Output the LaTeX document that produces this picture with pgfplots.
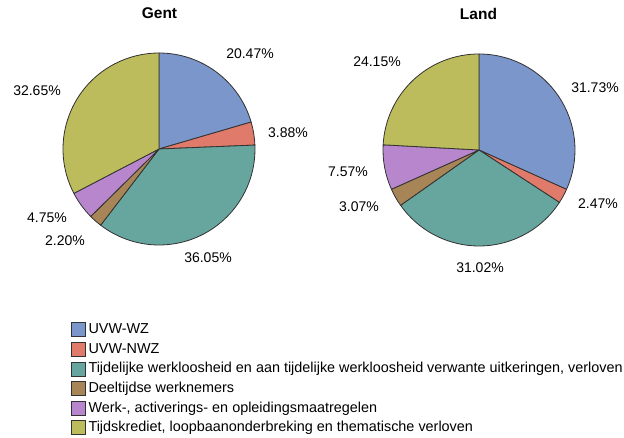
\documentclass[border=0pt]{standalone}
\usepackage{pgfplots}
\usepackage{pgfplotstable}
\pgfplotsset{compat=1.18}
\usepackage{fontspec}
\setmainfont{Liberation Sans}

\definecolor{c0}{RGB}{122,150,203}
\definecolor{c1}{RGB}{224,122,106}
\definecolor{c2}{RGB}{103,166,158}
\definecolor{c3}{RGB}{168,133,87}
\definecolor{c4}{RGB}{183,134,204}
\definecolor{c5}{RGB}{189,188,92}
\definecolor{edge}{RGB}{50,50,50}

% value = share in percent, lx/ly = label position (pixels from top-left)
\pgfplotstableread{
value lx ly
20.47 250 54
3.88 288 133
36.05 208 258
2.20 65 241
4.75 47 218
32.65 37 91
}\genttbl
\pgfplotstableread{
value lx ly
31.73 595 88
2.47 598 204
31.02 480 268
3.07 359 207
7.57 348 172
24.15 377 62
}\landtbl

\newcommand\prep[2]{%
  \def\cum{90}%
  \pgfplotsforeachungrouped \i in {0,...,5}{%
    \pgfplotstablegetelem{\i}{value}\of#1%
    \expandafter\xdef\csname #2v\i\endcsname{\pgfplotsretval}%
    \pgfmathsetmacro\nxt{\cum-3.6*\pgfplotsretval}%
    \expandafter\xdef\csname #2s\i\endcsname{\cum}%
    \expandafter\xdef\csname #2e\i\endcsname{\nxt}%
    \let\cum\nxt
    \pgfplotstablegetelem{\i}{lx}\of#1%
    \expandafter\xdef\csname #2x\i\endcsname{\pgfplotsretval}%
    \pgfplotstablegetelem{\i}{ly}\of#1%
    \pgfmathsetmacro\yy{438-\pgfplotsretval}%
    \expandafter\xdef\csname #2y\i\endcsname{\yy}%
  }%
}
\prep{\genttbl}{g}
\prep{\landtbl}{l}

\begin{document}
\begin{tikzpicture}
\begin{axis}[
  width=624pt, height=438pt, scale only axis,
  xmin=0, xmax=624, ymin=0, ymax=438,
  axis lines=none, clip=false,
  legend cell align=left,
  legend style={at={(axis cs:71,115.7)}, anchor=north west, draw=none, fill=none,
    inner sep=0pt, font=\fontsize{14.4}{16}\selectfont,
    nodes={inner sep=0pt, text height=10.5pt, text depth=3pt},
    row sep=4.8pt, column sep=2.5pt},
]
\pgfplotsinvokeforeach{0,...,5}{
  \filldraw[fill=c#1, draw=edge, line width=0.8pt, line join=round]
    (axis cs:159,289) -- ++(\csname gs#1\endcsname:96pt)
    arc[start angle=\csname gs#1\endcsname, end angle=\csname ge#1\endcsname, radius=96pt] -- cycle;
  \node[font=\fontsize{14}{16}\selectfont] at (axis cs:\csname gx#1\endcsname,\csname gy#1\endcsname) {\csname gv#1\endcsname\%};
  \filldraw[fill=c#1, draw=edge, line width=0.8pt, line join=round]
    (axis cs:479,288) -- ++(\csname ls#1\endcsname:96pt)
    arc[start angle=\csname ls#1\endcsname, end angle=\csname le#1\endcsname, radius=96pt] -- cycle;
  \node[font=\fontsize{14}{16}\selectfont] at (axis cs:\csname lx#1\endcsname,\csname ly#1\endcsname) {\csname lv#1\endcsname\%};
}
\node[font=\bfseries\fontsize{15.5}{17}\selectfont] at (axis cs:159.5,424.5) {Gent};
\node[font=\bfseries\fontsize{15.5}{17}\selectfont] at (axis cs:478.5,424.5) {Land};

\addlegendimage{legend image code/.code={\draw[fill=c0,draw=edge,line width=0.8pt] (0pt,-7pt) rectangle (14pt,7pt);}}
\addlegendentry{UVW-WZ}
\addlegendimage{legend image code/.code={\draw[fill=c1,draw=edge,line width=0.8pt] (0pt,-7pt) rectangle (14pt,7pt);}}
\addlegendentry{UVW-NWZ}
\addlegendimage{legend image code/.code={\draw[fill=c2,draw=edge,line width=0.8pt] (0pt,-7pt) rectangle (14pt,7pt);}}
\addlegendentry{Tijdelijke werkloosheid en aan tijdelijke werkloosheid verwante uitkeringen, verloven}
\addlegendimage{legend image code/.code={\draw[fill=c3,draw=edge,line width=0.8pt] (0pt,-7pt) rectangle (14pt,7pt);}}
\addlegendentry{Deeltijdse werknemers}
\addlegendimage{legend image code/.code={\draw[fill=c4,draw=edge,line width=0.8pt] (0pt,-7pt) rectangle (14pt,7pt);}}
\addlegendentry{Werk-, activerings- en opleidingsmaatregelen}
\addlegendimage{legend image code/.code={\draw[fill=c5,draw=edge,line width=0.8pt] (0pt,-7pt) rectangle (14pt,7pt);}}
\addlegendentry{Tijdskrediet, loopbaanonderbreking en thematische verloven}
\end{axis}
\pgfresetboundingbox
\path (current axis.south west) rectangle (current axis.north east);
\end{tikzpicture}
\end{document}
